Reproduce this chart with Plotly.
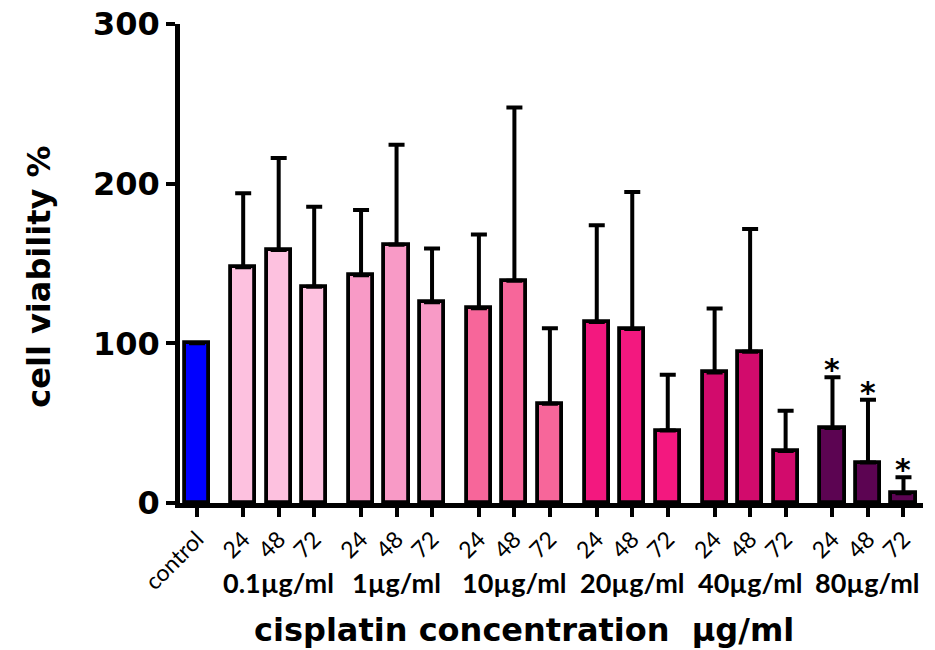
import plotly.graph_objects as go

# ---- data ----
groups = ["0.1µg/ml", "1µg/ml", "10µg/ml", "20µg/ml", "40µg/ml", "80µg/ml"]
times = ["24", "48", "72"]
control_value = 100
control_sd = 0
means = [
    [147.7, 158.4, 135.4],
    [142.7, 161.7, 125.7],
    [122.0, 139.2, 62.1],
    [113.4, 109.0, 45.4],
    [81.8, 94.8, 32.6],
    [46.9, 25.3, 6.1],
]
upper = [
    [194.0, 216.0, 185.6],
    [183.5, 224.3, 159.4],
    [168.2, 247.7, 109.4],
    [173.9, 194.8, 80.4],
    [121.8, 171.6, 57.8],
    [78.7, 64.7, 16.1],
]
significant = [
    [False, False, False],
    [False, False, False],
    [False, False, False],
    [False, False, False],
    [False, False, False],
    [True, True, True],
]
control_color = "#0000FF"
group_colors = ["#FDC1DF", "#F89AC6", "#F7669A", "#F3187F", "#D20B6C", "#5C0452"]

# ---- layout helpers ----
group_start = 1.3
group_step = 3.32

xs, ys, errs, cols, labels = [0], [control_value], [control_sd], [control_color], ["control"]
star_x, star_y = [], []
mid_x = []
for g, gname in enumerate(groups):
    for k, t in enumerate(times):
        x = group_start + group_step * g + k
        xs.append(x)
        ys.append(means[g][k])
        errs.append(upper[g][k] - means[g][k])
        cols.append(group_colors[g])
        labels.append(t)
        if significant[g][k]:
            star_x.append(x)
            star_y.append(upper[g][k])
        if k == 1:
            mid_x.append(x)

fig = go.Figure()
fig.add_trace(go.Bar(
    x=xs, y=ys, width=0.68,
    marker=dict(color=cols, line=dict(color="black", width=3.8)),
    error_y=dict(type="data", array=errs, arrayminus=[0] * len(errs), symmetric=False,
                 color="black", thickness=4, width=8, visible=True),
    showlegend=False, hoverinfo="skip",
))

# significance stars
for sx, sy in zip(star_x, star_y):
    fig.add_annotation(x=sx, y=sy, text="<b>*</b>", showarrow=False, xref="x", yref="y",
                       yanchor="bottom", yshift=-12,
                       font=dict(family="DejaVu Sans", size=30, color="black"))

# group labels
for gx, gname in zip(mid_x, groups):
    fig.add_annotation(x=gx, y=-0.165, xref="x", yref="paper", text="<b>" + gname + "</b>",
                       showarrow=False, yanchor="middle",
                       font=dict(family="Lato", size=27, color="black"))

# axis titles
fig.add_annotation(x=0.463, y=-0.265, xref="paper", yref="paper",
                   text="<b>cisplatin concentration  µg/ml</b>", showarrow=False,
                   yanchor="middle", font=dict(family="DejaVu Sans", size=32, color="black"))
fig.add_annotation(x=-0.19, y=0.472, xref="paper", yref="paper", textangle=-90,
                   text="<b>cell viability %</b>", showarrow=False,
                   xanchor="center", yanchor="middle",
                   font=dict(family="DejaVu Sans", size=32, color="black"))

fig.update_layout(
    width=935, height=650,
    margin=dict(l=180, r=12, t=24, b=147, autoexpand=False),
    plot_bgcolor="white", paper_bgcolor="white",
    bargap=0,
)
fig.update_xaxes(
    range=[-0.48, 20.45], tickmode="array", tickvals=xs, ticktext=labels, automargin=False,
    tickangle=-45, ticks="outside", ticklen=9, tickwidth=4, tickcolor="black",
    showline=True, linewidth=4.5, linecolor="black", showgrid=False, zeroline=False,
    tickfont=dict(family="Lato", size=23, color="black"),
)
fig.update_yaxes(
    range=[0, 300], tickvals=[0, 100, 200, 300], ticktext=["<b>0</b>", "<b>100</b>", "<b>200</b>", "<b>300</b>"],
    automargin=False,
    ticks="outside", ticklen=9, tickwidth=4, tickcolor="black", ticklabeloverflow="allow",
    showline=True, linewidth=4.5, linecolor="black", showgrid=False, zeroline=False,
    tickfont=dict(family="DejaVu Sans", size=32, color="black"),
)

fig.write_html("out.html", config={"displayModeBar": False},
               post_script="document.body.style.margin='0';document.body.style.overflow='hidden';")
